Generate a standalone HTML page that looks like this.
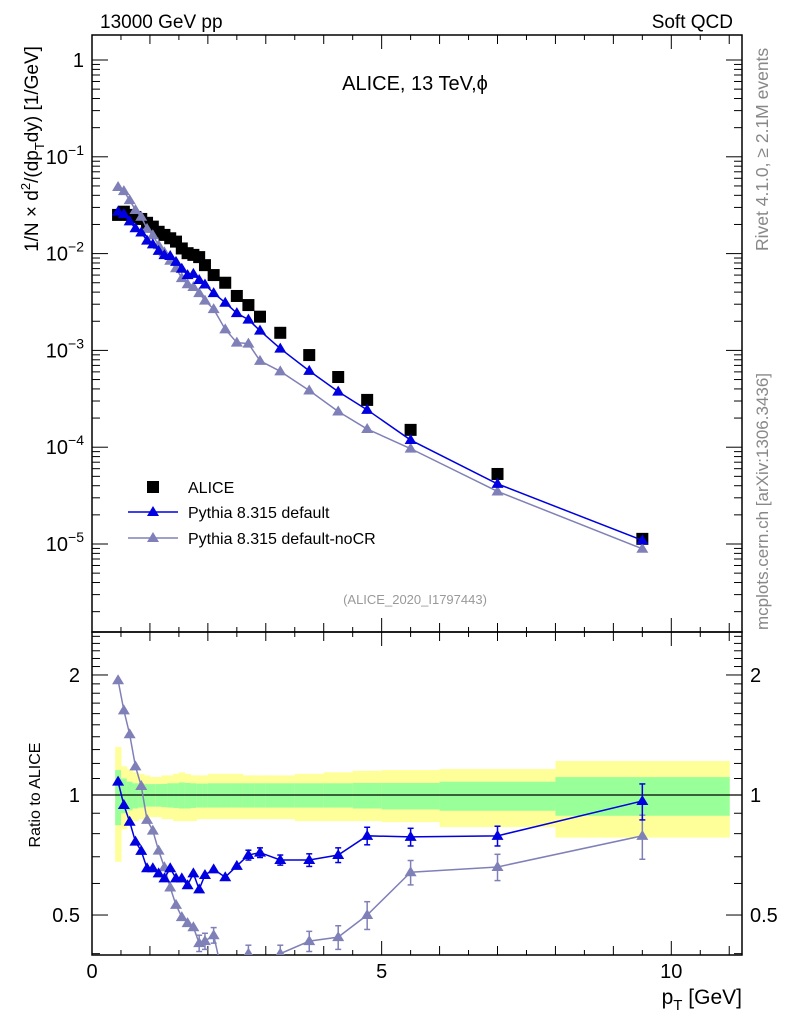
<!DOCTYPE html>
<html><head><meta charset="utf-8">
<style>
html,body{margin:0;padding:0;background:#fff;}
svg{display:block;font-family:"Liberation Sans",sans-serif;}
</style></head>
<body>
<svg id="chart" width="786" height="1024" viewBox="0 0 786 1024" xmlns="http://www.w3.org/2000/svg">
<text x="100" y="28" font-size="19">13000 GeV pp</text>
<text x="733" y="28" font-size="19" text-anchor="end">Soft QCD</text>
<text x="415" y="90" font-size="20" text-anchor="middle">ALICE, 13 TeV,ϕ</text>
<text x="415" y="604" font-size="13" fill="#999" text-anchor="middle">(ALICE_2020_I1797443)</text>
<text transform="translate(768,251) rotate(-90)" font-size="17.5" fill="#888">Rivet 4.1.0, ≥ 2.1M events</text>
<text transform="translate(768,630) rotate(-90)" font-size="17" fill="#888">mcplots.cern.ch [arXiv:1306.3436]</text>
<text transform="translate(38,149) rotate(-90)" font-size="19" text-anchor="middle">1/N × d<tspan dy="-8" font-size="13">2</tspan><tspan dy="8">/(dp</tspan><tspan dy="6" font-size="13">T</tspan><tspan dy="-6">dy) [1/GeV]</tspan></text>
<text transform="translate(40,795) rotate(-90)" font-size="16" text-anchor="middle">Ratio to ALICE</text>
<text x="742" y="1004" font-size="21" text-anchor="end">p<tspan dy="6" font-size="15">T</tspan><tspan dy="-6"> [GeV]</tspan></text>
<g id="bands"></g>
<g id="axes"></g>
<g id="series"></g>
<g id="legend">
  <rect x="147" y="481" width="12" height="12" fill="#000"/>
  <text x="188" y="493" font-size="16">ALICE</text>
  <line x1="128" y1="512" x2="178" y2="512" stroke="#0000e0" stroke-width="1.5"/>
  <polygon points="153,506 159,516 147,516" fill="#0000e0"/>
  <text x="188" y="518" font-size="16">Pythia 8.315 default</text>
  <line x1="128" y1="538" x2="178" y2="538" stroke="#8080b8" stroke-width="1.5"/>
  <polygon points="153,532 159,542 147,542" fill="#8080b8"/>
  <text x="188" y="544" font-size="16">Pythia 8.315 default-noCR</text>
</g>
</svg>
<script>
const pt=[0.45,0.55,0.65,0.75,0.85,0.95,1.05,1.15,1.25,1.35,1.45,1.55,1.65,1.75,1.85,1.95,2.1,2.3,2.5,2.7,2.9,3.25,3.75,4.25,4.75,5.5,7,9.5];
const binLo=[0.4,0.5,0.6,0.7,0.8,0.9,1.0,1.1,1.2,1.3,1.4,1.5,1.6,1.7,1.8,1.9,2.0,2.2,2.4,2.6,2.8,3.0,3.5,4.0,4.5,5,6,8];
const binHi=[0.5,0.6,0.7,0.8,0.9,1.0,1.1,1.2,1.3,1.4,1.5,1.6,1.7,1.8,1.9,2.0,2.2,2.4,2.6,2.8,3.0,3.5,4.0,4.5,5,6,8,11];
const alice=[0.0251,0.0271,0.0251,0.0239,0.0228,0.0208,0.0190,0.0168,0.0156,0.0144,0.0133,0.0113,0.0101,0.0097,0.0092,0.0076,0.0060,0.0050,0.00365,0.00294,0.00223,0.00152,0.000895,0.000531,0.000308,0.000151,0.0000529,0.0000113];
const ratioDefault=[1.08,0.944,0.857,0.764,0.724,0.655,0.655,0.636,0.618,0.655,0.618,0.618,0.594,0.636,0.580,0.630,0.651,0.622,0.664,0.707,0.717,0.687,0.687,0.707,0.79,0.785,0.79,0.966];
const ratioNoCR=[1.94,1.63,1.42,1.18,1.053,0.866,0.814,0.725,0.659,0.586,0.530,0.494,0.477,0.466,0.425,0.430,0.445,0.33,0.33,0.40,0.35,0.40,0.43,0.44,0.50,0.64,0.66,0.79];
const errDefault=[0,0,0,0,0,0,0,0,0,0,0,0,0,0,0,0,0,0,0,0.02,0.02,0.02,0.025,0.03,0.04,0.04,0.045,0.1];
const errNoCR=[0,0,0,0,0,0,0,0,0,0,0,0,0,0,0.02,0.02,0.02,0.02,0.02,0.02,0.02,0.02,0.025,0.03,0.04,0.045,0.05,0.1];
const yelHi=[1.32,1.18,1.16,1.14,1.13,1.12,1.11,1.11,1.12,1.12,1.13,1.14,1.13,1.12,1.12,1.12,1.13,1.13,1.13,1.12,1.12,1.12,1.13,1.14,1.15,1.155,1.162,1.217];
const yelLo=[0.68,0.82,0.84,0.86,0.87,0.88,0.88,0.88,0.87,0.87,0.86,0.86,0.86,0.86,0.87,0.87,0.87,0.87,0.87,0.87,0.87,0.87,0.86,0.86,0.86,0.855,0.831,0.782];
const grnHi=[1.155,1.10,1.08,1.07,1.07,1.065,1.065,1.065,1.066,1.07,1.07,1.075,1.072,1.07,1.068,1.068,1.07,1.07,1.07,1.07,1.07,1.07,1.07,1.07,1.072,1.072,1.080,1.109];
const grnLo=[0.84,0.90,0.915,0.925,0.93,0.935,0.935,0.935,0.932,0.93,0.928,0.925,0.925,0.928,0.93,0.93,0.93,0.93,0.93,0.93,0.93,0.93,0.93,0.93,0.925,0.92,0.913,0.887];
const xTickLabels=["0","5","10"];
const yTickLabels=["1","10^-1","10^-2","10^-3","10^-4","10^-5"];

const NS="http://www.w3.org/2000/svg";
const L=92,R=742,T=35,MB=632,RB=955;
const X=v=>L+v*57.93;
const Y=v=>60-Math.log10(v)*96.8;
const RY=v=>795-Math.log10(v)*398.7;
function mk(tag,attrs,parent){const e=document.createElementNS(NS,tag);for(const k in attrs)e.setAttribute(k,attrs[k]);parent.appendChild(e);return e;}
const bands=document.getElementById('bands'),axes=document.getElementById('axes'),series=document.getElementById('series');

for(let i=0;i<pt.length;i++){
  let r=mk('rect',{x:X(binLo[i]),y:RY(yelHi[i]),width:X(binHi[i])-X(binLo[i])+0.5,height:RY(yelLo[i])-RY(yelHi[i]),fill:'#ffff99'},bands);
  
  
  let g=mk('rect',{x:X(binLo[i]),y:RY(grnHi[i]),width:X(binHi[i])-X(binLo[i])+0.5,height:RY(grnLo[i])-RY(grnHi[i]),fill:'#99ff99'},bands);
  
  
}
let one=mk('line',{x1:L,x2:R,y1:RY(1),y2:RY(1),stroke:'#000','stroke-width':1.2},bands);



let f1=mk('rect',{x:L,y:T,width:R-L,height:MB-T,fill:'none',stroke:'#000','stroke-width':1.5},axes);


let f2=mk('rect',{x:L,y:MB,width:R-L,height:RB-MB,fill:'none',stroke:'#000','stroke-width':1.5},axes);



for(let k=0;k<=22;k++){
  const v=k*0.5;const x=X(v);if(x>R)break;
  const len=(k%10==0)?14:(k%2==0?9:5);
  for(const [top,bot] of [[T,MB],[MB,RB]]){
    mk('line',{x1:x,x2:x,y1:bot,y2:bot-len,stroke:'#000'},axes);
    mk('line',{x1:x,x2:x,y1:top,y2:top+len,stroke:'#000'},axes);
  }
}
xTickLabels.forEach((s,i)=>{const t=mk('text',{x:X(i*5),y:RB+23,'font-size':20,'text-anchor':'middle'},axes);t.textContent=s;
  
  });

for(let e=-6;e<=0;e++){
  for(let m=1;m<10;m++){
    const v=m*Math.pow(10,e);const y=Y(v);if(y<T||y>MB)continue;
    const len=m==1?16:8;
    mk('line',{x1:L,x2:L+len,y1:y,y2:y,stroke:'#000'},axes);
    mk('line',{x1:R,x2:R-len,y1:y,y2:y,stroke:'#000'},axes);
  }
}
yTickLabels.forEach((s,i)=>{
  const y=Y(Math.pow(10,-i));
  const t=mk('text',{x:L-8,y:y+7,'font-size':20,'text-anchor':'end'},axes);
  if(i==0){t.textContent=s;}
  else{t.textContent='10';const sp=mk('tspan',{dy:-9,'font-size':14},t);sp.textContent='−'+i;}
  
  
});
for(let k=3;k<=25;k++){
  const v=k/10;const y=RY(v);if(y<MB||y>RB)continue;
  const len=(k==5||k==10||k==20)?16:8;
  mk('line',{x1:L,x2:L+len,y1:y,y2:y,stroke:'#000'},axes);
  mk('line',{x1:R,x2:R-len,y1:y,y2:y,stroke:'#000'},axes);
}
[[2,'2'],[1,'1'],[0.5,'0.5']].forEach(([v,s])=>{
  const a=mk('text',{x:L-12,y:RY(v)+7,'font-size':20,'text-anchor':'end'},axes);a.textContent=s;
  
  
  const b=mk('text',{x:R+8,y:RY(v)+7,'font-size':20},axes);b.textContent=s;
  
  
});

const defs=mk('defs',{},document.getElementById('chart'));
const c1=mk('clipPath',{id:'cm'},defs);mk('rect',{x:L,y:T,width:R-L,height:MB-T},c1);
const c2=mk('clipPath',{id:'cr'},defs);mk('rect',{x:L,y:MB,width:R-L,height:RB-MB},c2);
const gm=mk('g',{'clip-path':'url(#cm)'},series);
const gr=mk('g',{'clip-path':'url(#cr)'},series);

function tri(g,x,y,col,name){
  const p=mk('polygon',{points:`${x},${y-6} ${x+6},${y+4} ${x-6},${y+4}`,fill:col},g);
  
  
}
function drawSeries(ratios,errs,col,name){
  const mc=ratios.map((r,i)=>r*alice[i]);
  const l1=mk('polyline',{points:mc.map((v,i)=>X(pt[i])+','+Y(v)).join(' '),fill:'none',stroke:col,'stroke-width':1.5},gm);
  
  
  mc.forEach((v,i)=>tri(gm,X(pt[i]),Y(v),col,name+'-point'));
  const l2=mk('polyline',{points:ratios.map((v,i)=>X(pt[i])+','+RY(v)).join(' '),fill:'none',stroke:col,'stroke-width':1.5},gr);
  
  
  ratios.forEach((v,i)=>{
    const x=X(pt[i]);
    if(errs[i]>0){
      const y1=RY(v+errs[i]),y2=RY(v-errs[i]);
      mk('line',{x1:x,x2:x,y1:y1,y2:y2,stroke:col,'stroke-width':1.5},gr);
      mk('line',{x1:x-3,x2:x+3,y1:y1,y2:y1,stroke:col,'stroke-width':1.5},gr);
      mk('line',{x1:x-3,x2:x+3,y1:y2,y2:y2,stroke:col,'stroke-width':1.5},gr);
    }
    tri(gr,x,RY(v),col,name+'-ratio-point');
  });
}
alice.forEach((v,i)=>{
  const r=mk('rect',{x:X(pt[i])-6,y:Y(v)-6,width:12,height:12,fill:'#000'},gm);
  
  
});
drawSeries(ratioNoCR,errNoCR,'#8080b8','pythia-nocr');
drawSeries(ratioDefault,errDefault,'#0000e0','pythia-default');
</script>
</body></html>
